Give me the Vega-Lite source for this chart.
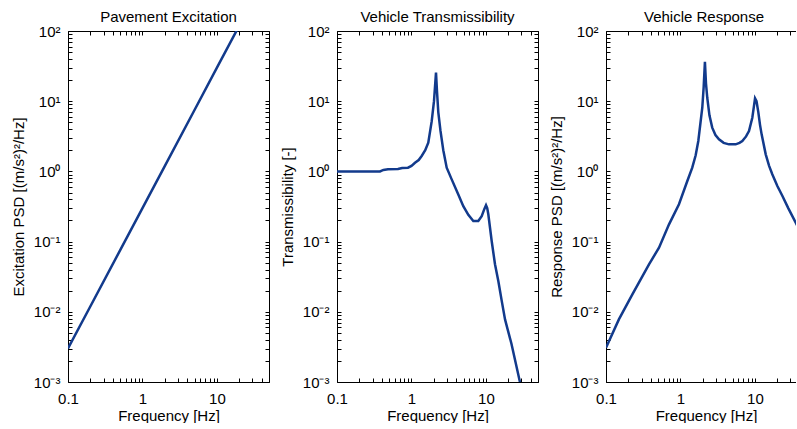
{
  "$schema": "https://vega.github.io/schema/vega-lite/v6.json",
  "background": "white",
  "padding": {"left": 11, "top": 10, "right": 0, "bottom": 0},
  "spacing": 68,
  "bounds": "flush",
  "datasets": {
    "exc": [
      {"f": 0.1, "v": 0.003}, {"f": 0.2, "v": 0.012}, {"f": 0.5, "v": 0.075},
      {"f": 1, "v": 0.3}, {"f": 2, "v": 1.2}, {"f": 5, "v": 7.5},
      {"f": 10, "v": 30}, {"f": 20, "v": 120}
    ],
    "trans": [
      {"f": 0.1, "v": 1.0}, {"f": 0.2, "v": 1.0}, {"f": 0.378, "v": 1.0},
      {"f": 0.42, "v": 1.05}, {"f": 0.484, "v": 1.07}, {"f": 0.659, "v": 1.08},
      {"f": 0.75, "v": 1.12}, {"f": 0.898, "v": 1.13}, {"f": 1.0, "v": 1.2},
      {"f": 1.115, "v": 1.33}, {"f": 1.25, "v": 1.45}, {"f": 1.371, "v": 1.66},
      {"f": 1.53, "v": 2.0}, {"f": 1.682, "v": 2.56}, {"f": 1.87, "v": 5.2},
      {"f": 2.006, "v": 10}, {"f": 2.135, "v": 25.5}, {"f": 2.2, "v": 14},
      {"f": 2.291, "v": 7.0}, {"f": 2.45, "v": 3.8}, {"f": 2.675, "v": 2.0},
      {"f": 2.971, "v": 1.13}, {"f": 3.467, "v": 0.77}, {"f": 4.254, "v": 0.47},
      {"f": 4.966, "v": 0.32}, {"f": 5.8, "v": 0.24}, {"f": 6.766, "v": 0.196},
      {"f": 7.891, "v": 0.196}, {"f": 8.77, "v": 0.23}, {"f": 9.5, "v": 0.29},
      {"f": 10.02, "v": 0.33}, {"f": 10.4, "v": 0.3}, {"f": 10.76, "v": 0.245},
      {"f": 11.94, "v": 0.102}, {"f": 13.23, "v": 0.0475}, {"f": 14.66, "v": 0.0275},
      {"f": 16.29, "v": 0.0143}, {"f": 18.04, "v": 0.0078}, {"f": 22, "v": 0.0035},
      {"f": 28.6, "v": 0.001}, {"f": 33.4, "v": 0.0005}
    ],
    "resp": [
      {"f": 0.1, "v": 0.00308}, {"f": 0.149, "v": 0.0078}, {"f": 0.226, "v": 0.0177},
      {"f": 0.378, "v": 0.0475}, {"f": 0.515, "v": 0.0818}, {"f": 0.702, "v": 0.176},
      {"f": 0.955, "v": 0.34}, {"f": 1.236, "v": 0.73}, {"f": 1.44, "v": 1.13},
      {"f": 1.6, "v": 1.7}, {"f": 1.736, "v": 2.71}, {"f": 1.963, "v": 8.07},
      {"f": 2.05, "v": 16}, {"f": 2.13, "v": 36.5}, {"f": 2.2, "v": 18},
      {"f": 2.29, "v": 11.2}, {"f": 2.45, "v": 6.3}, {"f": 2.67, "v": 4.2},
      {"f": 2.95, "v": 3.3}, {"f": 3.29, "v": 2.86}, {"f": 3.8, "v": 2.55},
      {"f": 4.48, "v": 2.43}, {"f": 5.51, "v": 2.43}, {"f": 6.2, "v": 2.55},
      {"f": 6.77, "v": 2.71}, {"f": 7.6, "v": 3.15}, {"f": 8.32, "v": 3.76},
      {"f": 9.22, "v": 5.82}, {"f": 9.7, "v": 8.5}, {"f": 10.03, "v": 11.0},
      {"f": 10.5, "v": 10.0}, {"f": 11.1, "v": 7.0}, {"f": 11.7, "v": 4.6},
      {"f": 12.3, "v": 3.37}, {"f": 13.96, "v": 1.75}, {"f": 15.5, "v": 1.2},
      {"f": 17.1, "v": 0.91}, {"f": 20, "v": 0.62}, {"f": 23.4, "v": 0.447},
      {"f": 28, "v": 0.3}, {"f": 35.3, "v": 0.186}, {"f": 45, "v": 0.11}
    ]
  },
  "hconcat": [
    {
      "title": {"text": "Pavement Excitation"},
      "width": 201, "height": 351,
      "data": {"name": "exc"},
      "layer": [
        {
          "mark": {"type": "line", "clip": true, "color": "#123a8c", "strokeWidth": 2.5},
          "encoding": {
            "x": {"field": "f", "type": "quantitative",
              "scale": {"type": "log", "domain": [0.1, 50], "nice": false},
              "axis": {"orient": "bottom", "title": "Frequency [Hz]",
                "values": [0.1,0.2,0.3,0.4,0.5,0.6,0.7,0.8,0.9,1,2,3,4,5,6,7,8,9,10,20,30,40,50],
                "labelExpr": "datum.value==0.1?'0.1':datum.value==1?'1':datum.value==10?'10':''",
                "labelPadding": 13, "titlePadding": 2}},
            "y": {"field": "v", "type": "quantitative",
              "scale": {"type": "log", "domain": [0.001, 100], "nice": false},
              "axis": {"orient": "left", "title": "Excitation PSD [(m/s²)²/Hz]",
                "values": [0.001,0.002,0.003,0.004,0.005,0.006,0.007,0.008,0.009,0.01,0.02,0.03,0.04,0.05,0.06,0.07,0.08,0.09,0.1,0.2,0.3,0.4,0.5,0.6,0.7,0.8,0.9,1,2,3,4,5,6,7,8,9,10,20,30,40,50,60,70,80,90,100],
                "labelExpr": "datum.value==100?'10²':datum.value==10?'10¹':datum.value==1?'10⁰':datum.value==0.1?'10⁻¹':datum.value==0.01?'10⁻²':datum.value==0.001?'10⁻³':''",
                "labelPadding": 12, "titlePadding": 7}}
          }
        },
        {
          "mark": {"type": "line", "clip": true, "opacity": 0},
          "encoding": {
            "x": {"field": "f", "type": "quantitative",
              "scale": {"type": "log", "domain": [0.1, 50], "nice": false},
              "axis": {"orient": "top", "title": null, "labels": false,
                "values": [0.1,0.2,0.3,0.4,0.5,0.6,0.7,0.8,0.9,1,2,3,4,5,6,7,8,9,10,20,30,40,50]}},
            "y": {"field": "v", "type": "quantitative",
              "scale": {"type": "log", "domain": [0.001, 100], "nice": false},
              "axis": {"orient": "right", "title": null, "labels": false,
                "values": [0.001,0.002,0.003,0.004,0.005,0.006,0.007,0.008,0.009,0.01,0.02,0.03,0.04,0.05,0.06,0.07,0.08,0.09,0.1,0.2,0.3,0.4,0.5,0.6,0.7,0.8,0.9,1,2,3,4,5,6,7,8,9,10,20,30,40,50,60,70,80,90,100]}}
          }
        }
      ],
      "resolve": {"axis": {"x": "independent", "y": "independent"}}
    },
    {
      "title": {"text": "Vehicle Transmissibility"},
      "width": 201, "height": 351,
      "data": {"name": "trans"},
      "layer": [
        {
          "mark": {"type": "line", "clip": true, "color": "#123a8c", "strokeWidth": 2.5},
          "encoding": {
            "x": {"field": "f", "type": "quantitative",
              "scale": {"type": "log", "domain": [0.1, 50], "nice": false},
              "axis": {"orient": "bottom", "title": "Frequency [Hz]",
                "values": [0.1,0.2,0.3,0.4,0.5,0.6,0.7,0.8,0.9,1,2,3,4,5,6,7,8,9,10,20,30,40,50],
                "labelExpr": "datum.value==0.1?'0.1':datum.value==1?'1':datum.value==10?'10':''",
                "labelPadding": 13, "titlePadding": 2}},
            "y": {"field": "v", "type": "quantitative",
              "scale": {"type": "log", "domain": [0.001, 100], "nice": false},
              "axis": {"orient": "left", "title": "Transmissibility [-]",
                "values": [0.001,0.002,0.003,0.004,0.005,0.006,0.007,0.008,0.009,0.01,0.02,0.03,0.04,0.05,0.06,0.07,0.08,0.09,0.1,0.2,0.3,0.4,0.5,0.6,0.7,0.8,0.9,1,2,3,4,5,6,7,8,9,10,20,30,40,50,60,70,80,90,100],
                "labelExpr": "datum.value==100?'10²':datum.value==10?'10¹':datum.value==1?'10⁰':datum.value==0.1?'10⁻¹':datum.value==0.01?'10⁻²':datum.value==0.001?'10⁻³':''",
                "labelPadding": 12, "titlePadding": 7}}
          }
        },
        {
          "mark": {"type": "line", "clip": true, "opacity": 0},
          "encoding": {
            "x": {"field": "f", "type": "quantitative",
              "scale": {"type": "log", "domain": [0.1, 50], "nice": false},
              "axis": {"orient": "top", "title": null, "labels": false,
                "values": [0.1,0.2,0.3,0.4,0.5,0.6,0.7,0.8,0.9,1,2,3,4,5,6,7,8,9,10,20,30,40,50]}},
            "y": {"field": "v", "type": "quantitative",
              "scale": {"type": "log", "domain": [0.001, 100], "nice": false},
              "axis": {"orient": "right", "title": null, "labels": false,
                "values": [0.001,0.002,0.003,0.004,0.005,0.006,0.007,0.008,0.009,0.01,0.02,0.03,0.04,0.05,0.06,0.07,0.08,0.09,0.1,0.2,0.3,0.4,0.5,0.6,0.7,0.8,0.9,1,2,3,4,5,6,7,8,9,10,20,30,40,50,60,70,80,90,100]}}
          }
        }
      ],
      "resolve": {"axis": {"x": "independent", "y": "independent"}}
    },
    {
      "title": {"text": "Vehicle Response", "dx": 3},
      "width": 190, "height": 351,
      "data": {"name": "resp"},
      "layer": [
        {
          "mark": {"type": "line", "clip": true, "color": "#123a8c", "strokeWidth": 2.5},
          "encoding": {
            "x": {"field": "f", "type": "quantitative",
              "scale": {"type": "log", "domain": [0.1, 35.6], "nice": false},
              "axis": {"orient": "bottom", "title": "Frequency [Hz]", "titleX": 100,
                "values": [0.1,0.2,0.3,0.4,0.5,0.6,0.7,0.8,0.9,1,2,3,4,5,6,7,8,9,10,20,30],
                "labelExpr": "datum.value==0.1?'0.1':datum.value==1?'1':datum.value==10?'10':''",
                "labelPadding": 13, "titlePadding": 2}},
            "y": {"field": "v", "type": "quantitative",
              "scale": {"type": "log", "domain": [0.001, 100], "nice": false},
              "axis": {"orient": "left", "title": "Response PSD [(m/s²)²/Hz]",
                "values": [0.001,0.002,0.003,0.004,0.005,0.006,0.007,0.008,0.009,0.01,0.02,0.03,0.04,0.05,0.06,0.07,0.08,0.09,0.1,0.2,0.3,0.4,0.5,0.6,0.7,0.8,0.9,1,2,3,4,5,6,7,8,9,10,20,30,40,50,60,70,80,90,100],
                "labelExpr": "datum.value==100?'10²':datum.value==10?'10¹':datum.value==1?'10⁰':datum.value==0.1?'10⁻¹':datum.value==0.01?'10⁻²':datum.value==0.001?'10⁻³':''",
                "labelPadding": 12, "titlePadding": 7}}
          }
        },
        {
          "mark": {"type": "line", "clip": true, "opacity": 0},
          "encoding": {
            "x": {"field": "f", "type": "quantitative",
              "scale": {"type": "log", "domain": [0.1, 35.6], "nice": false},
              "axis": {"orient": "top", "title": null, "labels": false,
                "values": [0.1,0.2,0.3,0.4,0.5,0.6,0.7,0.8,0.9,1,2,3,4,5,6,7,8,9,10,20,30]}},
            "y": {"field": "v", "type": "quantitative",
              "scale": {"type": "log", "domain": [0.001, 100], "nice": false},
              "axis": null}
          }
        }
      ],
      "resolve": {"axis": {"x": "independent", "y": "independent"}}
    }
  ],
  "config": {
    "view": {"stroke": null},
    "font": "Liberation Sans",
    "axis": {
      "labelFont": "Liberation Sans", "titleFont": "Liberation Sans",
      "labelFontSize": 15, "titleFontSize": 15,
      "labelColor": "black", "titleColor": "black", "titleFontWeight": "normal",
      "domainColor": "black", "domainWidth": 1, "tickColor": "black", "tickWidth": 1,
      "tickSize": -4,
      "grid": false, "labelFlush": false, "labelOverlap": false
    },
    "title": {"font": "Liberation Sans", "fontSize": 15, "fontWeight": "normal", "color": "black", "offset": -1}
  }
}
